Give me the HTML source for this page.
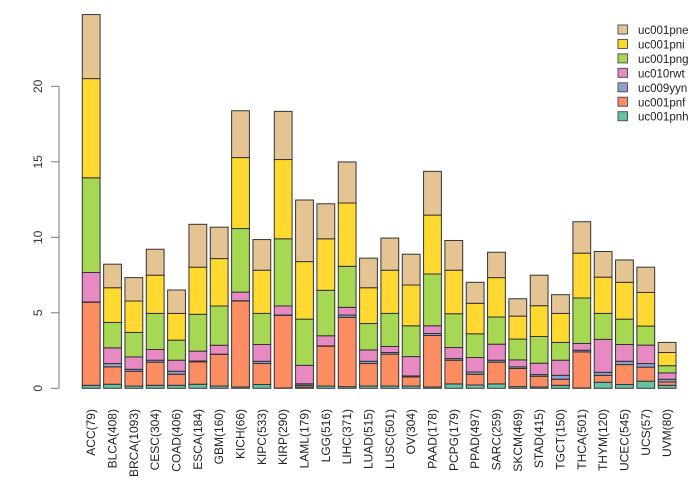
<!DOCTYPE html>
<html><head><meta charset="utf-8">
<style>
html,body{margin:0;padding:0;background:#fff;}
svg{display:block;font-family:"Liberation Sans",sans-serif;}
</style></head>
<body>
<svg id="chart" width="700" height="480" viewBox="0 0 700 480" xmlns="http://www.w3.org/2000/svg">
<g id="bars"></g>
<g id="yaxis"></g>
<g id="xlabels"></g>
<g id="legend"></g>
</svg>
<script>
const categories = ["ACC(79)","BLCA(408)","BRCA(1093)","CESC(304)","COAD(406)","ESCA(184)","GBM(160)","KICH(66)","KIPC(533)","KIRP(290)","LAML(179)","LGG(516)","LIHC(371)","LUAD(515)","LUSC(501)","OV(304)","PAAD(178)","PCPG(179)","PPAD(497)","SARC(259)","SKCM(469)","STAD(415)","TGCT(150)","THCA(501)","THYM(120)","UCEC(545)","UCS(57)","UVM(80)"];
const seriesNames = ["uc001pnh","uc001pnf","uc009yyn","uc010rwt","uc001png","uc001pni","uc001pne"];
const uc001pnh = [0.2,0.27,0.15,0.2,0.2,0.27,0.15,0.09,0.25,0.02,0.08,0.15,0.11,0.15,0.15,0.15,0.09,0.29,0.22,0.29,0.11,0.09,0.2,0.02,0.4,0.25,0.47,0.2];
const uc001pnf = [5.5,1.15,0.98,1.53,0.73,1.48,2.09,5.69,1.39,4.81,0.12,2.64,4.59,1.49,2.11,0.6,3.41,1.57,0.71,1.44,1.2,0.71,0.4,2.39,0.46,1.32,0.93,0.22];
const uc009yyn = [0.02,0.22,0.13,0.13,0.2,0.06,0.02,0.02,0.15,0.02,0.1,0.02,0.15,0.15,0.11,0.07,0.13,0.11,0.15,0.13,0.11,0.11,0.26,0.11,0.2,0.22,0.24,0.18];
const uc010rwt = [1.95,1.04,0.82,0.71,0.73,0.65,0.59,0.57,1.11,0.6,1.22,0.67,0.51,0.75,0.4,1.28,0.51,0.73,0.96,1.06,0.46,0.75,1.0,0.45,2.18,1.11,1.22,0.42];
const uc001png = [6.27,1.68,1.62,2.39,1.33,2.44,2.6,4.21,2.06,4.45,3.06,3.01,2.72,1.75,2.19,2.04,3.43,2.24,1.57,1.8,1.38,1.77,1.18,3.01,1.72,1.68,1.26,0.48];
const uc001pni = [6.57,2.3,2.08,2.53,1.77,3.12,3.14,4.7,2.86,5.25,3.81,3.41,4.19,2.37,2.86,2.7,3.9,2.88,2.02,2.61,1.52,2.04,1.92,2.97,2.4,2.44,2.23,0.87];
const uc001pne = [4.24,1.56,1.55,1.72,1.55,2.84,2.08,3.1,2.03,3.19,4.08,2.32,2.72,1.96,2.13,2.04,2.9,1.97,1.39,1.68,1.15,2.02,1.24,2.08,1.7,1.48,1.67,0.67];
const yTicks = [0,5,10,15,20];

const series = [uc001pnh,uc001pnf,uc009yyn,uc010rwt,uc001png,uc001pni,uc001pne];
const colors = ["#66c2a5","#fc8d62","#8da0cb","#e78ac3","#a6d854","#ffd92f","#e5c494"];
const NS = "http://www.w3.org/2000/svg";
const y0 = 388.3, pxPerUnit = 15.1;
const yScale = v => y0 - v * pxPerUnit;
const step = 21.33, barW = 17.8, x0 = 82.3;
const xScale = i => x0 + i * step;
function mk(tag, attrs, parent){const e=document.createElementNS(NS,tag);for(const k in attrs)e.setAttribute(k,attrs[k]);parent.appendChild(e);return e;}

const gb = document.getElementById('bars');
categories.forEach((c,i)=>{
  let cum = 0;
  series.forEach((s,j)=>{
    const v = s[i];
    const yt = yScale(cum+v), yb = yScale(cum);
    const r = mk('rect',{x:xScale(i),y:yt,width:barW,height:Math.max(yb-yt,0.01),fill:colors[j],stroke:'#333',"stroke-width":1},gb);
    
    
    cum += v;
  });
});

const gy = document.getElementById('yaxis');
const ax = mk('line',{x1:59,x2:59,y1:yScale(yTicks[0]),y2:yScale(yTicks[yTicks.length-1]),stroke:'#777'},gy);


yTicks.forEach(t=>{
  const y=yScale(t);
  const tl = mk('line',{x1:51,x2:59,y1:y,y2:y,stroke:'#777'},gy);
  
  
  const tx = mk('text',{x:42,y:y,"font-size":12,fill:'#333',"text-anchor":"middle",transform:`rotate(-90 42 ${y})`},gy);
  tx.textContent = t;
  
  
});

const gx = document.getElementById('xlabels');
categories.forEach((c,i)=>{
  const x = xScale(i)+barW/2+4, y = 409;
  const t = mk('text',{x:x,y:y,"font-size":12,fill:'#222',"text-anchor":"end",transform:`rotate(-90 ${x} ${y})`},gx);
  t.textContent = c;
  
  
});

const gl = document.getElementById('legend');
for(let k=0;k<7;k++){
  const j = 6-k;
  const y = 30 + k*14.45;
  const b = mk('rect',{x:618,y:y-5,width:9.5,height:9,fill:colors[j],stroke:'#555'},gl);
  
  
  const t = mk('text',{x:638,y:y+4,"font-size":11.5,fill:'#222'},gl);
  t.textContent = seriesNames[j];
  
  
}
</script>
</body></html>
